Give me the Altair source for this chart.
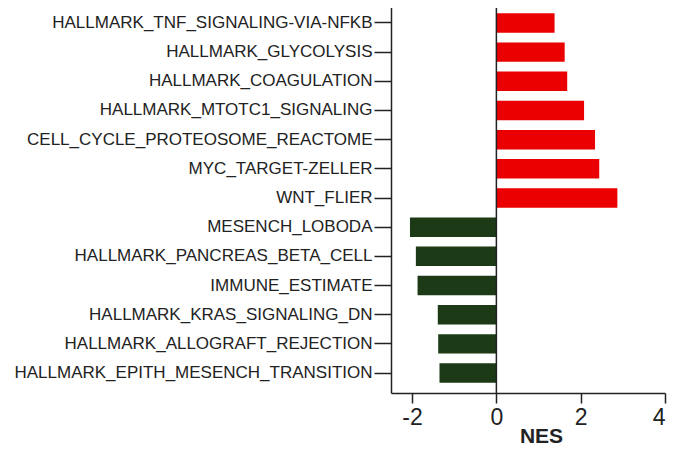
import altair as alt
import pandas as pd

categories = [
    "HALLMARK_TNF_SIGNALING-VIA-NFKB",
    "HALLMARK_GLYCOLYSIS",
    "HALLMARK_COAGULATION",
    "HALLMARK_MTOTC1_SIGNALING",
    "CELL_CYCLE_PROTEOSOME_REACTOME",
    "MYC_TARGET-ZELLER",
    "WNT_FLIER",
    "MESENCH_LOBODA",
    "HALLMARK_PANCREAS_BETA_CELL",
    "IMMUNE_ESTIMATE",
    "HALLMARK_KRAS_SIGNALING_DN",
    "HALLMARK_ALLOGRAFT_REJECTION",
    "HALLMARK_EPITH_MESENCH_TRANSITION",
]
nes = [1.38, 1.62, 1.68, 2.08, 2.34, 2.44, 2.87,
       -2.05, -1.91, -1.87, -1.39, -1.38, -1.35]
x_ticks = [-2, 0, 2, 4]

df = pd.DataFrame({"term": categories, "NES": nes})
df["dir"] = ["up" if v > 0 else "down" for v in nes]

bars = alt.Chart(df).mark_bar().encode(
    y=alt.Y("term:N", sort=categories,
            scale=alt.Scale(paddingInner=0.333, paddingOuter=0.35),
            axis=alt.Axis(title=None, labelFontSize=17, labelFont="Liberation Sans",
                          labelColor="#222222", labelPadding=2, tickSize=17,
                          tickColor="#222222", tickWidth=1.5, domainColor="#222222",
                          domainWidth=1.5, labelLimit=600, grid=False)),
    x=alt.X("NES:Q",
            scale=alt.Scale(domain=[-2.5, 4], nice=False, zero=False),
            axis=alt.Axis(values=x_ticks, title="NES", titleFontSize=21,
                          titleFont="Liberation Sans", titleFontWeight="bold",
                          titleColor="#222222", titleX=150, titleY=49,
                          titleBaseline="alphabetic", titleAlign="center",
                          labelFontSize=23, labelFont="Liberation Sans",
                          labelColor="#222222", labelPadding=3, tickSize=10,
                          tickColor="#222222", tickWidth=1.5, domainColor="#222222",
                          domainWidth=1.5, grid=False,
                          labelExpr="'' + datum.value")),
    color=alt.Color("dir:N", scale=alt.Scale(domain=["up", "down"],
                                             range=["#ea0000", "#1b3a15"]),
                    legend=None),
)

zero = alt.Chart(pd.DataFrame({"z": [0]})).mark_rule(color="#222222", strokeWidth=1.5).encode(
    x=alt.X("z:Q")
)

chart = alt.layer(bars, zero).properties(
    width=274, height=390,
    autosize=alt.AutoSizeParams(type="none"),
    padding={"left": 383, "top": -5, "right": 10, "bottom": 54},
).configure_view(stroke=None)

chart.save("out.html", embed_options={"renderer": "svg", "actions": False})
